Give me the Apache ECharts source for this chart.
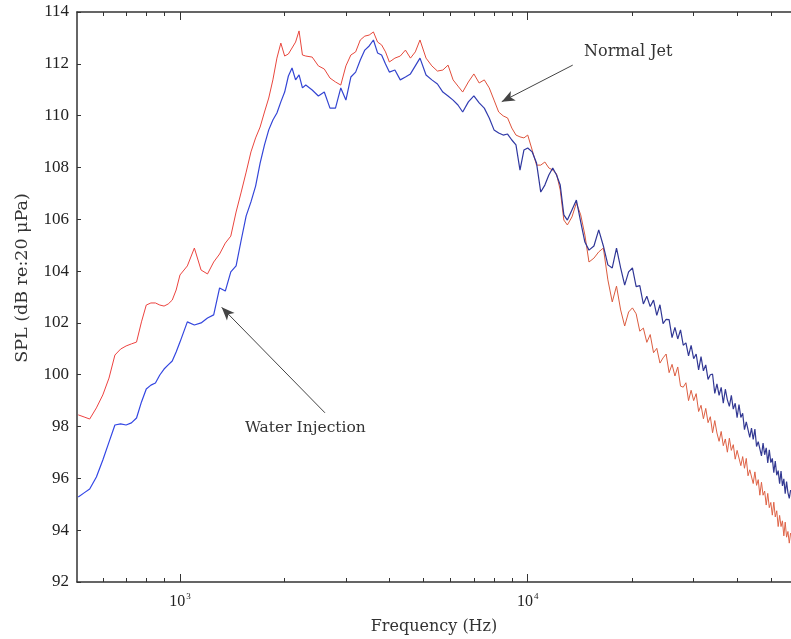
<!DOCTYPE html>
<html>
<head>
<meta charset="utf-8">
<script src="https://cdn.jsdelivr.net/npm/echarts@6/dist/echarts.min.js"></script>
<style>
html,body{margin:0;padding:0;background:#fff;}
#chart{width:791px;height:639px;}
</style>
</head>
<body>
<div id="chart"></div>
<script>
// Frequency samples (Hz)
var freqs = [510,530,550,575,600,625,650,675,700,725,750,775,800,825,850,875,900,925,950,975,
  1000,1050,1100,1150,1200,1250,1300,1350,1400,1450,1500,1550,1600,1650,1700,1750,1800,1850,1900,1950,2000,2050,2100,2150,2200,2250,2300,
  2400,2500,2600,2700,2800,2900,3000,3100,3200,3300,3400,3500,3600,3700,3800,3900,4000,
  4150,4300,4450,4600,4750,4900,
  5100,5300,5500,5700,5900,6100,6300,6500,
  6750,7000,7250,7500,7750,8000,8250,8500,8750,9000,9250,9500,9750,10000,
  10300,10600,10900,11200,11500,11800,12100,12400,12700,13000,
  13400,13800,14200,14600,15000,
  15500,16000,16500,17000,17500,18000,18500,19000,19500,20000,
  20500,21000,21500,22000,22500,23000,23500,24000,24500,25000,25500,26000,26500,27000,27500,28000,28500,29000,29500,30000,
  30500,31000,31500,32000,32500,33000,33500,34000,34500,35000,35500,36000,36500,37000,37500,38000,38500,39000,39500,40000,
  40500,41000,41500,42000,42500,43000,43500,44000,44500,45000,45500,46000,46500,47000,47500,48000,48500,49000,49500,50000,
  50500,51000,51500,52000,52500,53000,53500,54000,54500,55000,55500,56000,56500,57000];

// Normal Jet SPL (dB)
var normalJet = [98.45,98.37,98.29,98.72,99.22,99.87,100.76,100.99,101.11,101.19,101.26,102.04,102.69,102.77,102.77,102.69,102.65,102.73,102.88,103.27,
  103.85,104.20,104.89,104.04,103.89,104.35,104.66,105.08,105.35,106.28,107.05,107.82,108.60,109.14,109.56,110.14,110.68,111.38,112.22,112.80,112.30,112.38,112.61,112.84,113.27,112.34,112.30,
  112.26,111.92,111.80,111.45,111.30,111.18,111.92,112.34,112.46,112.92,113.07,113.11,113.23,112.84,112.73,112.46,112.07,
  112.22,112.30,112.53,112.22,112.46,112.92,
  112.22,111.92,111.72,111.76,111.95,111.38,111.14,110.91,
  111.30,111.61,111.26,111.38,111.07,110.60,110.14,109.99,109.91,109.52,109.25,109.18,109.14,109.25,
  108.67,108.09,108.09,108.21,107.98,107.90,107.75,107.13,105.97,105.78,
  106.09,106.63,106.17,105.39,104.35,
  104.50,104.74,104.89,103.66,102.81,103.42,102.50,101.88,102.42,102.58,
  102.35,101.68,101.80,101.25,101.55,100.85,101.02,100.45,100.65,100.80,100.08,100.40,99.95,100.30,99.56,99.52,99.69,99.00,99.40,99.00,
  99.27,98.58,98.82,98.30,98.70,98.15,98.38,97.76,98.23,97.75,97.43,97.81,97.26,97.52,97.01,97.55,97.08,97.30,96.74,97.08,
  97.13,96.49,96.84,96.39,96.77,96.10,96.33,96.40,95.80,96.25,95.73,95.95,95.35,95.85,95.35,95.51,94.97,95.42,94.87,95.07,
  94.58,95.08,94.51,94.75,94.14,94.57,94.14,94.36,93.78,94.31,93.73,93.95,93.50,93.89];

// Water Injection SPL (dB)
var waterInjection = [95.28,95.44,95.59,96.05,96.71,97.40,98.06,98.10,98.06,98.14,98.33,98.95,99.45,99.60,99.68,99.99,100.22,100.38,100.53,100.88,
  101.26,102.04,101.92,102.00,102.19,102.31,103.35,103.23,103.97,104.20,105.20,106.13,106.67,107.28,108.17,108.87,109.45,109.83,110.10,110.53,110.91,111.53,111.84,111.38,111.57,111.07,111.18,
  110.99,110.76,110.91,110.29,110.29,111.07,110.60,111.49,111.68,112.15,112.53,112.69,112.92,112.42,112.34,111.99,111.68,
  111.76,111.38,111.49,111.61,111.92,112.22,
  111.57,111.38,111.22,110.91,110.76,110.60,110.41,110.14,
  110.53,110.76,110.49,110.29,109.91,109.45,109.33,109.25,109.29,109.06,108.87,107.90,108.67,108.75,
  108.60,108.17,107.05,107.32,107.71,107.98,107.71,107.32,106.17,105.97,
  106.36,106.74,105.90,105.12,104.81,
  104.97,105.59,104.97,104.24,104.12,104.89,104.12,103.46,103.97,104.12,
  103.40,103.44,102.73,103.03,102.63,102.88,102.29,102.70,101.97,102.14,102.13,101.43,101.83,101.38,101.73,101.14,101.23,100.73,101.13,100.62,
  100.80,100.19,100.70,100.15,100.38,99.82,100.00,100.02,99.28,99.65,99.20,99.51,98.90,99.44,99.03,98.78,99.20,98.67,98.90,98.34,
  98.85,98.35,98.51,97.88,98.18,98.23,97.58,97.94,97.50,97.90,97.23,97.42,97.47,96.87,97.36,96.91,97.18,96.60,97.10,96.61,
  96.77,96.22,96.67,96.12,96.30,95.79,96.28,95.71,95.98,95.41,95.88,95.45,95.23,95.55];

// Axis ticks (Hz)
var majorTicks = [1000, 10000];
var minorTicks = [600,700,800,900,2000,3000,4000,5000,6000,7000,8000,9000,20000,30000,40000,50000];

// Annotation arrows: [from, to] in data coordinates
var normalJetArrow = [[13470, 111.95], [8420, 110.54]];
var waterArrow = [[2612, 98.53], [1318, 102.60]];

var xMin = 505.7, xMax = 57150;

var chart = echarts.init(document.getElementById('chart'), null, {renderer: 'canvas'});

function pairs(vals) { return freqs.map(function (f, i) { return [f, vals[i]]; }); }

var axisColor = '#333';

// helper axes (log10 space) used only to place tick marks at 2..9 x decade
function tickAx(pos, ticks, len) {
  return {
    type: 'value', min: Math.log10(xMin), max: Math.log10(xMax), position: pos,
    axisLine: {show: false, onZero: false},
    axisTick: {show: true, inside: true, length: len, customValues: ticks.map(function (t) { return Math.log10(t); }),
      lineStyle: {color: axisColor, width: 1}},
    axisLabel: {show: false},
    splitLine: {show: false}
  };
}

var mainX = {
  type: 'log', logBase: 10, min: xMin, max: xMax, position: 'bottom',
  axisLine: {show: true, onZero: false, lineStyle: {color: axisColor, width: 1.5}},
  axisTick: {show: false},
  axisLabel: {
    show: true, margin: 10, customValues: majorTicks,
    formatter: function (v) { return '{b|10}{s|' + Math.round(Math.log10(v)) + '}'; },
    rich: {
      b: {fontFamily: 'Liberation Serif', fontSize: 16, color: '#222'},
      s: {fontFamily: 'Liberation Serif', fontSize: 9, color: '#222', padding: [0, 0, 10, 1]}
    }
  },
  splitLine: {show: false},
  name: 'Frequency (Hz)', nameLocation: 'middle', nameGap: 37,
  nameTextStyle: {fontFamily: 'DejaVu Serif', fontSize: 16, color: '#333'}
};
var topX = {
  type: 'log', logBase: 10, min: xMin, max: xMax, position: 'top',
  axisLine: {show: true, onZero: false, lineStyle: {color: axisColor, width: 1.5}},
  axisTick: {show: false}, axisLabel: {show: false}, splitLine: {show: false}
};

var option = {
  backgroundColor: '#fff',
  animation: false,
  grid: {left: 77, right: 0, top: 12, bottom: 57, containLabel: false, outerBoundsMode: 'none'},
  xAxis: [mainX, topX,
    tickAx('bottom', majorTicks, 8), tickAx('bottom', minorTicks, 4),
    tickAx('top', majorTicks, 8), tickAx('top', minorTicks, 4)],
  yAxis: {
    type: 'value', min: 92, max: 114, interval: 2,
    axisLine: {show: true, lineStyle: {color: axisColor, width: 1.5}},
    axisTick: {show: true, inside: true, length: 4, lineStyle: {color: axisColor}},
    axisLabel: {fontFamily: 'Liberation Serif', fontSize: 17, color: '#222', margin: 8},
    splitLine: {show: false}
  },
  series: [
    {
      name: 'Normal Jet', type: 'line', xAxisIndex: 0, showSymbol: false, symbol: 'none',
      data: pairs(normalJet),
      lineStyle: {width: 1, color: new echarts.graphic.LinearGradient(0, 0, 1, 0, [
        {offset: 0, color: '#ee4040'}, {offset: 0.45, color: '#e5493b'},
        {offset: 0.7, color: '#d9583b'}, {offset: 1, color: '#df6448'}])},
      markLine: {
        silent: true, symbol: ['none', 'arrow'], symbolSize: [8, 13],
        label: {show: false},
        lineStyle: {color: '#444', width: 1, type: 'solid'},
        data: [
          [{coord: normalJetArrow[0]}, {coord: normalJetArrow[1]}],
          [{coord: waterArrow[0]}, {coord: waterArrow[1]}]
        ]
      }
    },
    {
      name: 'Water Injection', type: 'line', xAxisIndex: 0, showSymbol: false, symbol: 'none',
      data: pairs(waterInjection),
      lineStyle: {width: 1.2, color: new echarts.graphic.LinearGradient(0, 0, 1, 0, [
        {offset: 0, color: '#3246e8'}, {offset: 0.45, color: '#3444cc'},
        {offset: 0.65, color: '#2e3598'}, {offset: 1, color: '#343a92'}])}
    }
  ],
  graphic: [
    {type: 'text', x: 584, y: 52, style: {text: 'Normal Jet', fontFamily: 'DejaVu Serif', fontSize: 16, fill: '#333', verticalAlign: 'middle'}},
    {type: 'text', x: 245, y: 428, style: {text: 'Water Injection', fontFamily: 'DejaVu Serif', fontSize: 15.5, fill: '#333', verticalAlign: 'middle'}},
    {type: 'text', x: 22, y: 278, rotation: Math.PI / 2, style: {text: 'SPL (dB re:20 μPa)', fontFamily: 'DejaVu Serif', fontSize: 17.5, fill: '#333', align: 'center', verticalAlign: 'middle'}}
  ]
};
chart.setOption(option);
</script>
</body>
</html>
